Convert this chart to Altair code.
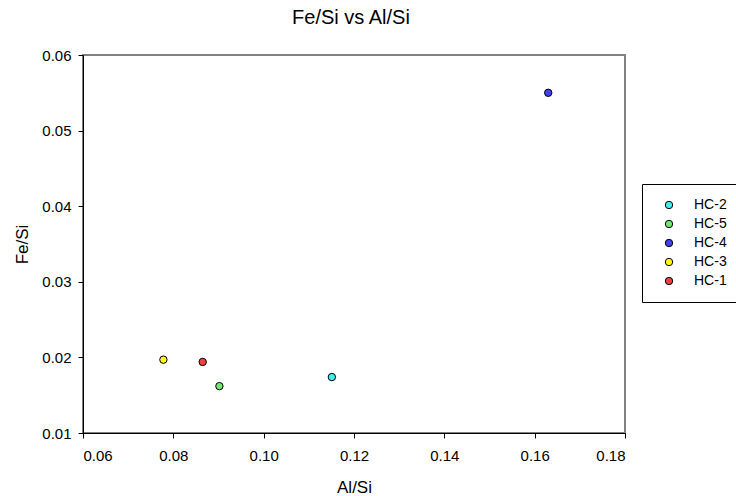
import altair as alt
import pandas as pd

samples = ["HC-2", "HC-5", "HC-4", "HC-3", "HC-1"]
al_si = [0.1151, 0.0902, 0.1630, 0.0778, 0.0865]
fe_si = [0.0174, 0.0162, 0.0550, 0.0197, 0.0194]
colors = ["#40EEEE", "#70E870", "#4040EE", "#FFFF00", "#F04040"]
x_ticks = [0.06, 0.08, 0.10, 0.12, 0.14, 0.16, 0.18]
y_ticks = [0.01, 0.02, 0.03, 0.04, 0.05, 0.06]

df = pd.DataFrame({"Sample": samples, "Al/Si": al_si, "Fe/Si": fe_si})

FONT = "Liberation Sans"

chart = alt.Chart(df).mark_point(
    filled=True, size=55, stroke="black", strokeWidth=1, opacity=1
).encode(
    x=alt.X("Al/Si:Q", scale=alt.Scale(domain=[0.06, 0.18], nice=False, zero=False),
            axis=alt.Axis(values=x_ticks, format=".2f", title="Al/Si",
                          labelPadding=10, titlePadding=16)),
    y=alt.Y("Fe/Si:Q", scale=alt.Scale(domain=[0.01, 0.06], nice=False, zero=False),
            axis=alt.Axis(values=y_ticks, format=".2f", title="Fe/Si",
                          labelPadding=7, titlePadding=10)),
    fill=alt.Fill("Sample:N", scale=alt.Scale(domain=samples, range=colors),
                  legend=alt.Legend(title=None, orient="none", legendX=559, legendY=129,
                                    strokeColor="black", padding=14, rowPadding=5,
                                    symbolType="circle", symbolSize=55, symbolOffset=6,
                                    symbolStrokeColor="black", symbolStrokeWidth=1,
                                    labelFontSize=14, labelFont=FONT, labelOffset=18,
                                    labelColor="black")),
).properties(
    width=542, height=378,
    title=alt.TitleParams("Fe/Si vs Al/Si", fontSize=20, font=FONT, fontWeight="normal",
                          anchor="middle", dx=-3, offset=20, color="black"),
    autosize=alt.AutoSizeParams(type="none"),
    padding={"left": 83, "top": 55, "right": 111, "bottom": 63},
).configure_view(
    stroke="#808080", strokeWidth=2
).configure_axis(
    grid=False, domainColor="black", tickColor="black", tickSize=5,
    labelFont=FONT, labelFontSize=15, labelColor="black",
    titleFont=FONT, titleFontSize=17, titleFontWeight="normal", titleColor="black",
)

chart.save("out.html", embed_options={"renderer": "svg", "actions": False})
